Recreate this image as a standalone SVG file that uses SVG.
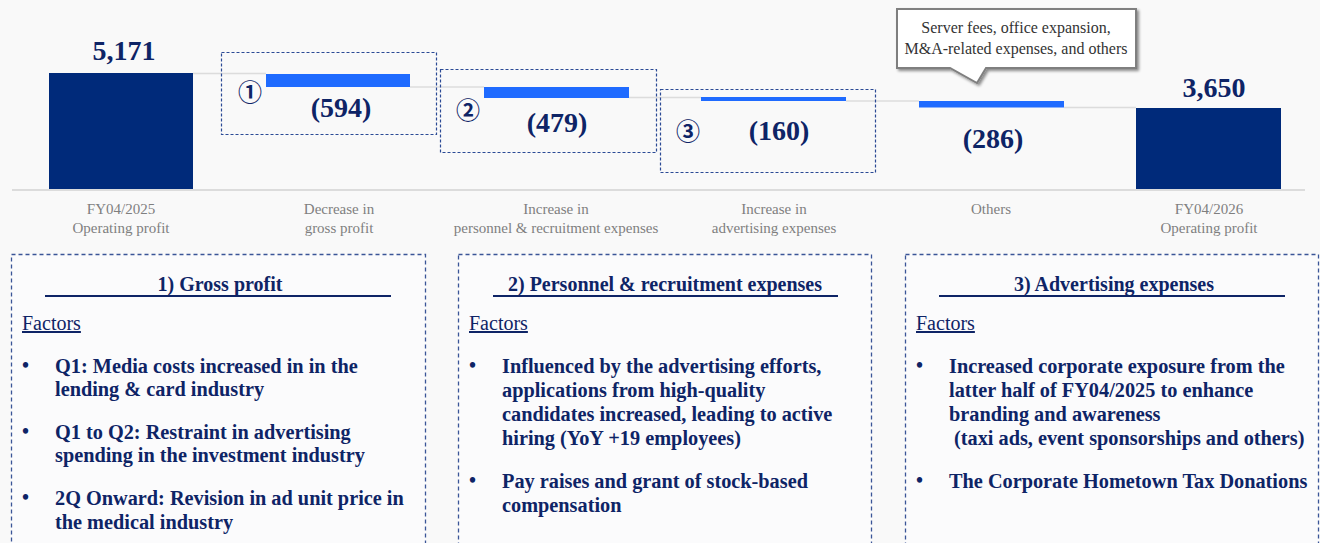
<svg xmlns="http://www.w3.org/2000/svg" width="1320" height="543" viewBox="0 0 1320 543">
<style>
.bg{fill:#f9f9f9}
.total{fill:#002A7A}
.delta{fill:#1F6BFF}
.grid{stroke:#dcdcdc;stroke-width:2;fill:none}
.conn{stroke:#dcdcdc;stroke-width:1.5;fill:none}
.hl{fill:none;stroke:#2B4A95;stroke-width:1.2;stroke-dasharray:3 2}
.box{fill:#fbfbfc;stroke:#3A5597;stroke-width:1.3;stroke-dasharray:4 3}
.big{font-family:"Liberation Serif","Times New Roman",serif;font-weight:bold;font-size:28px;fill:#0E2466;text-anchor:middle}
.num{font-family:"Noto Sans CJK JP","Liberation Serif",sans-serif;font-weight:bold;font-size:24px;fill:#0E2466;text-anchor:middle}
.cat{font-family:"Liberation Serif","Times New Roman",serif;font-size:15px;fill:#7f7f7f;text-anchor:middle}
.call{font-family:"Liberation Serif","Times New Roman",serif;font-size:16px;fill:#333;text-anchor:middle}
.title{font-family:"Liberation Serif","Times New Roman",serif;font-weight:bold;font-size:20px;fill:#0E2466;text-anchor:middle}
.fac{font-family:"Liberation Serif","Times New Roman",serif;font-size:20px;fill:#0E2466;text-decoration:underline}
.txt{font-family:"Liberation Serif","Times New Roman",serif;font-weight:bold;font-size:20.3px;fill:#0E2466}
.dot{font-family:"Liberation Serif","Times New Roman",serif;font-weight:bold;font-size:20px;fill:#0E2466}
.ul{stroke:#0E2466;stroke-width:2}
</style>
<defs>
<filter id="sh" x="-10%" y="-10%" width="130%" height="140%">
<feGaussianBlur in="SourceAlpha" stdDeviation="1.5"/>
<feOffset dx="2" dy="2"/>
<feComponentTransfer><feFuncA type="linear" slope="0.45"/></feComponentTransfer>
<feMerge><feMergeNode/><feMergeNode in="SourceGraphic"/></feMerge>
</filter>
</defs>
<rect class="bg" x="0" y="0" width="1320" height="543"/>

<g id="connectors">
<line class="grid" x1="12" y1="190" x2="1305" y2="190"/>
<line class="conn" x1="193" y1="73.5" x2="266" y2="73.5"/>
<line class="conn" x1="410" y1="87" x2="484" y2="87"/>
<line class="conn" x1="629" y1="97.5" x2="701" y2="97.5"/>
<line class="conn" x1="846" y1="101" x2="919" y2="101"/>
<line class="conn" x1="1064" y1="107.5" x2="1136" y2="107.5"/>
</g>

<g id="bar-fy2025">
<rect class="total" x="49" y="73" width="144" height="116"/>
<text class="big" x="124" y="60">5,171</text>
<text class="cat" x="121" y="214">FY04/2025</text>
<text class="cat" x="121" y="233">Operating profit</text>
</g>

<g id="bar-gross">
<rect class="hl" x="221.5" y="52.5" width="215" height="82"/>
<rect class="delta" x="266" y="74" width="144" height="13"/>
<text class="num" x="250" y="101">①</text>
<text class="big" x="341" y="117">(594)</text>
<text class="cat" x="339" y="214">Decrease in</text>
<text class="cat" x="339" y="233">gross profit</text>
</g>

<g id="bar-personnel">
<rect class="hl" x="440.5" y="69.5" width="216" height="83"/>
<rect class="delta" x="484" y="87" width="145" height="11"/>
<text class="num" x="468" y="119">②</text>
<text class="big" x="557" y="132">(479)</text>
<text class="cat" x="556" y="214">Increase in</text>
<text class="cat" x="556" y="233">personnel &amp; recruitment expenses</text>
</g>

<g id="bar-advertising">
<rect class="hl" x="660.5" y="89.5" width="215" height="83"/>
<rect class="delta" x="701" y="97" width="145" height="4"/>
<text class="num" x="688" y="140">③</text>
<text class="big" x="779" y="140">(160)</text>
<text class="cat" x="774" y="214">Increase in</text>
<text class="cat" x="774" y="233">advertising expenses</text>
</g>

<g id="bar-others">
<rect class="delta" x="919" y="101" width="145" height="6.5"/>
<text class="big" x="993" y="148">(286)</text>
<text class="cat" x="991" y="214">Others</text>
</g>

<g id="callout">
<path d="M897,9 H1136 V68 H986 L977,83 L950,68 H897 Z" fill="#ffffff" stroke="#7f7f7f" stroke-width="2" filter="url(#sh)"/>
<text class="call" x="1016" y="33">Server fees, office expansion,</text>
<text class="call" x="1016" y="54">M&amp;A-related expenses, and others</text>
</g>

<g id="bar-fy2026">
<rect class="total" x="1136" y="108" width="145" height="81"/>
<text class="big" x="1214" y="97">3,650</text>
<text class="cat" x="1209" y="214">FY04/2026</text>
<text class="cat" x="1209" y="233">Operating profit</text>
</g>

<g id="box-gross">
<rect class="box" x="11.5" y="254.5" width="414" height="300"/>
<text class="title" x="220" y="291">1) Gross profit</text>
<line class="ul" x1="45" y1="296" x2="391" y2="296"/>
<text class="fac" x="22" y="330">Factors</text>
<text class="dot" x="22" y="372">•</text>
<text class="txt" x="55" y="373">Q1: Media costs increased in in the</text>
<text class="txt" x="55" y="396">lending &amp; card industry</text>
<text class="dot" x="22" y="438">•</text>
<text class="txt" x="55" y="439">Q1 to Q2: Restraint in advertising</text>
<text class="txt" x="55" y="462">spending in the investment industry</text>
<text class="dot" x="22" y="504">•</text>
<text class="txt" x="55" y="505">2Q Onward: Revision in ad unit price in</text>
<text class="txt" x="55" y="529">the medical industry</text>
</g>

<g id="box-personnel">
<rect class="box" x="458.5" y="254.5" width="413" height="300"/>
<text class="title" x="665" y="291">2) Personnel &amp; recruitment expenses</text>
<line class="ul" x1="493" y1="296" x2="838" y2="296"/>
<text class="fac" x="469" y="330">Factors</text>
<text class="dot" x="469" y="372">•</text>
<text class="txt" x="502" y="373">Influenced by the advertising efforts,</text>
<text class="txt" x="502" y="397">applications from high-quality</text>
<text class="txt" x="502" y="421">candidates increased, leading to active</text>
<text class="txt" x="502" y="445">hiring (YoY +19 employees)</text>
<text class="dot" x="469" y="487">•</text>
<text class="txt" x="502" y="488">Pay raises and grant of stock-based</text>
<text class="txt" x="502" y="512">compensation</text>
</g>

<g id="box-advertising">
<rect class="box" x="905.5" y="254.5" width="413" height="300"/>
<text class="title" x="1114" y="291">3) Advertising expenses</text>
<line class="ul" x1="939" y1="296" x2="1285" y2="296"/>
<text class="fac" x="916" y="330">Factors</text>
<text class="dot" x="916" y="372">•</text>
<text class="txt" x="949" y="373">Increased corporate exposure from the</text>
<text class="txt" x="949" y="397">latter half of FY04/2025 to enhance</text>
<text class="txt" x="949" y="421">branding and awareness</text>
<text class="txt" x="954" y="445">(taxi ads, event sponsorships and others)</text>
<text class="dot" x="916" y="487">•</text>
<text class="txt" x="949" y="488">The Corporate Hometown Tax Donations</text>
</g>
</svg>
